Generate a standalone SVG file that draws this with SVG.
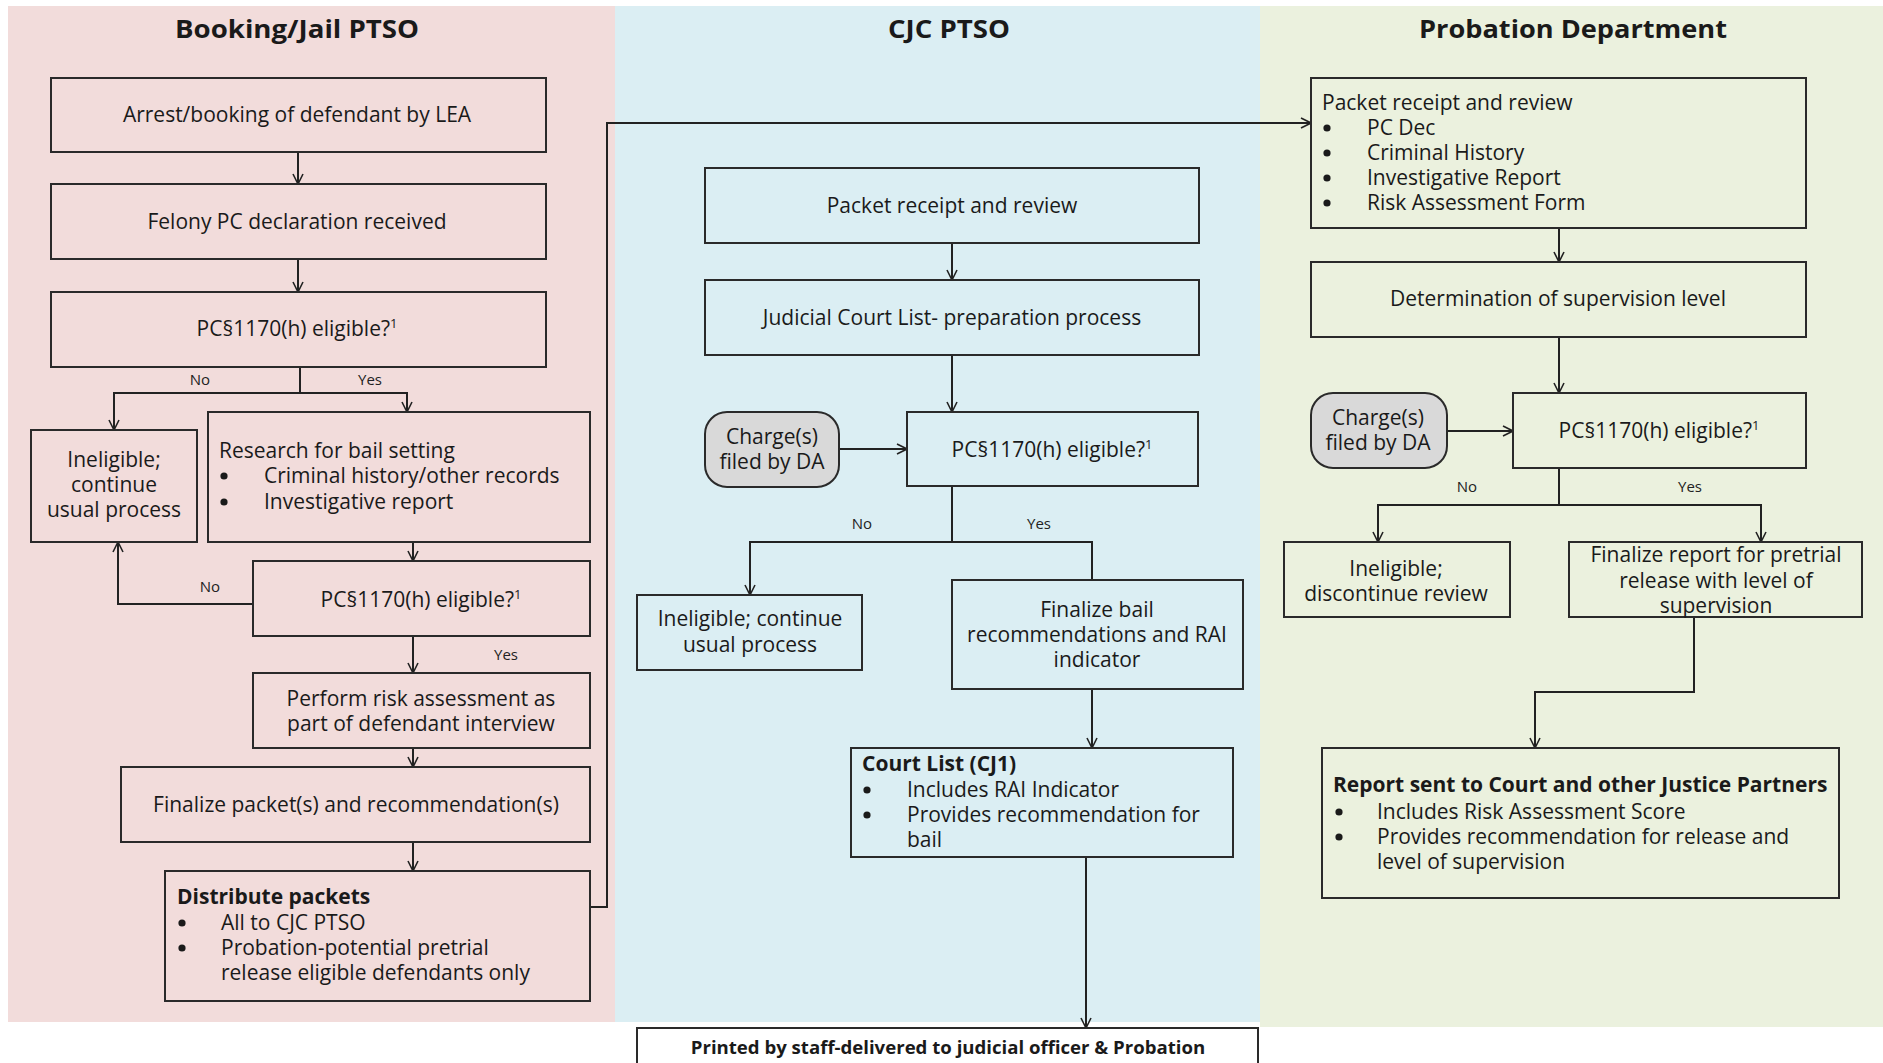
<svg xmlns="http://www.w3.org/2000/svg" width="1883" height="1063" viewBox="0 0 1883 1063">
<defs>
<marker id="arr" viewBox="0 0 12 12" refX="11" refY="6" markerWidth="12" markerHeight="12" markerUnits="userSpaceOnUse" orient="auto">
<path d="M1,1 L11,6 L1,11" fill="none" stroke="#222" stroke-width="1.6"/>
</marker>
<style>
.box{fill:none;stroke:#2a2a2a;stroke-width:2}
.pill{fill:#d9d9d9;stroke:#2a2a2a;stroke-width:2}
.t{font-family:"Open Sans","Liberation Sans",sans-serif;font-size:21px;fill:#1a1a1a}
.c{text-anchor:middle}
.b{font-weight:bold;font-size:21px}
.h{font-family:"Open Sans","Liberation Sans",sans-serif;font-size:25px;font-weight:bold;fill:#1a1a1a;text-anchor:middle}
.lbl{font-family:"Open Sans","Liberation Sans",sans-serif;font-size:15px;fill:#222;text-anchor:middle}
.sup{font-size:13px}
.ln{fill:none;stroke:#222;stroke-width:2}
.dot{fill:#1a1a1a}
</style>
</defs>
<g id="lanes">
<rect x="8" y="6" width="607" height="1016" fill="#F2DCDB"/>
<rect x="615" y="6" width="645" height="1016" fill="#DBEEF3"/>
<rect x="1260" y="6" width="623" height="1021" fill="#EBF1DE"/>
<text class="h" x="297" y="38" textLength="244" lengthAdjust="spacingAndGlyphs">Booking/Jail PTSO</text>
<text class="h" x="949" y="38" textLength="122" lengthAdjust="spacingAndGlyphs">CJC PTSO</text>
<text class="h" x="1573" y="38" textLength="308" lengthAdjust="spacingAndGlyphs">Probation Department</text>
</g>
<g id="connectors">
<line class="ln" x1="298" y1="152" x2="298" y2="184" marker-end="url(#arr)"/>
<line class="ln" x1="298" y1="259" x2="298" y2="292" marker-end="url(#arr)"/>
<polyline class="ln" points="300,367 300,393"/>
<polyline class="ln" points="114,430 114,393 407,393 407,412"/>
<line class="ln" x1="114" y1="393" x2="114" y2="430" marker-end="url(#arr)"/>
<line class="ln" x1="407" y1="393" x2="407" y2="412" marker-end="url(#arr)"/>
<line class="ln" x1="413" y1="542" x2="413" y2="561" marker-end="url(#arr)"/>
<polyline class="ln" points="253,604 118,604 118,542" marker-end="url(#arr)"/>
<line class="ln" x1="413" y1="636" x2="413" y2="673" marker-end="url(#arr)"/>
<line class="ln" x1="413" y1="748" x2="413" y2="767" marker-end="url(#arr)"/>
<line class="ln" x1="413" y1="842" x2="413" y2="871" marker-end="url(#arr)"/>
<polyline class="ln" points="590,907 607,907 607,123 1311,123" marker-end="url(#arr)"/>
<line class="ln" x1="952" y1="243" x2="952" y2="280" marker-end="url(#arr)"/>
<line class="ln" x1="952" y1="355" x2="952" y2="412" marker-end="url(#arr)"/>
<line class="ln" x1="839" y1="449" x2="907" y2="449" marker-end="url(#arr)"/>
<polyline class="ln" points="952,486 952,542"/>
<polyline class="ln" points="750,595 750,542 1092,542 1092,580"/>
<line class="ln" x1="750" y1="542" x2="750" y2="595" marker-end="url(#arr)"/>
<line class="ln" x1="1092" y1="689" x2="1092" y2="748" marker-end="url(#arr)"/>
<line class="ln" x1="1086" y1="857" x2="1086" y2="1028" marker-end="url(#arr)"/>
<line class="ln" x1="1559" y1="228" x2="1559" y2="262" marker-end="url(#arr)"/>
<line class="ln" x1="1559" y1="337" x2="1559" y2="393" marker-end="url(#arr)"/>
<line class="ln" x1="1447" y1="431" x2="1513" y2="431" marker-end="url(#arr)"/>
<polyline class="ln" points="1559,468 1559,505"/>
<polyline class="ln" points="1378,542 1378,505 1761,505 1761,542"/>
<line class="ln" x1="1378" y1="505" x2="1378" y2="542" marker-end="url(#arr)"/>
<line class="ln" x1="1761" y1="505" x2="1761" y2="542" marker-end="url(#arr)"/>
<polyline class="ln" points="1694,617 1694,692 1535,692 1535,748" marker-end="url(#arr)"/>
<text class="lbl" x="200" y="385">No</text>
<text class="lbl" x="370" y="385">Yes</text>
<text class="lbl" x="210" y="592">No</text>
<text class="lbl" x="506" y="660">Yes</text>
<text class="lbl" x="862" y="529">No</text>
<text class="lbl" x="1039" y="529">Yes</text>
<text class="lbl" x="1467" y="492">No</text>
<text class="lbl" x="1690" y="492">Yes</text>
</g>
<g id="n-arrest"><rect class="box" x="51" y="78" width="495" height="74"/><text class="t c" x="297" y="122">Arrest/booking of defendant by LEA</text></g>
<g id="n-felony"><rect class="box" x="51" y="184" width="495" height="75"/><text class="t c" x="297" y="229">Felony PC declaration received</text></g>
<g id="n-elig1"><rect class="box" x="51" y="292" width="495" height="75"/><text class="t c" x="297" y="336">PC§1170(h) eligible?<tspan class="sup" dy="-8">1</tspan></text></g>
<g id="n-inelig1"><rect class="box" x="31" y="430" width="166" height="112"/><text class="t c" x="114" y="467">Ineligible;</text><text class="t c" x="114" y="492">continue</text><text class="t c" x="114" y="517">usual process</text></g>
<g id="n-research"><rect class="box" x="208" y="412" width="382" height="130"/><text class="t" x="219" y="458">Research for bail setting</text><circle class="dot" cx="224" cy="476" r="3.6"/><text class="t" x="264" y="483">Criminal history/other records</text><circle class="dot" cx="224" cy="502" r="3.6"/><text class="t" x="264" y="509">Investigative report</text></g>
<g id="n-elig2"><rect class="box" x="253" y="561" width="337" height="75"/><text class="t c" x="421" y="607">PC§1170(h) eligible?<tspan class="sup" dy="-8">1</tspan></text></g>
<g id="n-risk"><rect class="box" x="253" y="673" width="337" height="75"/><text class="t c" x="421" y="706">Perform risk assessment as</text><text class="t c" x="421" y="731">part of defendant interview</text></g>
<g id="n-finalize-packets"><rect class="box" x="121" y="767" width="469" height="75"/><text class="t c" x="356" y="812">Finalize packet(s) and recommendation(s)</text></g>
<g id="n-distribute"><rect class="box" x="165" y="871" width="425" height="130"/><text class="t b" x="177" y="904">Distribute packets</text><circle class="dot" cx="182" cy="923" r="3.6"/><text class="t" x="221" y="930">All to CJC PTSO</text><circle class="dot" cx="182" cy="948" r="3.6"/><text class="t" x="221" y="955">Probation-potential pretrial</text><text class="t" x="221" y="980">release eligible defendants only</text></g>
<g id="n-cjc-packet"><rect class="box" x="705" y="168" width="494" height="75"/><text class="t c" x="952" y="213">Packet receipt and review</text></g>
<g id="n-court-prep"><rect class="box" x="705" y="280" width="494" height="75"/><text class="t c" x="952" y="325">Judicial Court List- preparation process</text></g>
<g id="n-charge1"><rect class="pill" x="705" y="412" width="134" height="75" rx="22"/><text class="t c" x="772" y="444">Charge(s)</text><text class="t c" x="772" y="469">filed by DA</text></g>
<g id="n-elig3"><rect class="box" x="907" y="412" width="291" height="74"/><text class="t c" x="1052" y="457">PC§1170(h) eligible?<tspan class="sup" dy="-8">1</tspan></text></g>
<g id="n-inelig2"><rect class="box" x="637" y="595" width="225" height="75"/><text class="t c" x="750" y="626">Ineligible; continue</text><text class="t c" x="750" y="652">usual process</text></g>
<g id="n-finalize-bail"><rect class="box" x="952" y="580" width="291" height="109"/><text class="t c" x="1097" y="617">Finalize bail</text><text class="t c" x="1097" y="642">recommendations and RAI</text><text class="t c" x="1097" y="667">indicator</text></g>
<g id="n-court-list"><rect class="box" x="851" y="748" width="382" height="109"/><text class="t b" x="862" y="771">Court List (CJ1)</text><circle class="dot" cx="867" cy="790" r="3.6"/><text class="t" x="907" y="797">Includes RAI Indicator</text><circle class="dot" cx="867" cy="815" r="3.6"/><text class="t" x="907" y="822">Provides recommendation for</text><text class="t" x="907" y="847">bail</text></g>
<g id="n-printed"><rect x="637" y="1028" width="621" height="50" fill="#fff" stroke="#2a2a2a" stroke-width="2"/><text class="t c" x="948" y="1054" style="font-size:18.6px;font-weight:bold">Printed by staff-delivered to judicial officer &amp; Probation</text></g>
<g id="n-prob-packet"><rect class="box" x="1311" y="78" width="495" height="150"/><text class="t" x="1322" y="110">Packet receipt and review</text><circle class="dot" cx="1327" cy="128" r="3.6"/><text class="t" x="1367" y="135">PC Dec</text><circle class="dot" cx="1327" cy="153" r="3.6"/><text class="t" x="1367" y="160">Criminal History</text><circle class="dot" cx="1327" cy="178" r="3.6"/><text class="t" x="1367" y="185">Investigative Report</text><circle class="dot" cx="1327" cy="203" r="3.6"/><text class="t" x="1367" y="210">Risk Assessment Form</text></g>
<g id="n-supervision"><rect class="box" x="1311" y="262" width="495" height="75"/><text class="t c" x="1558" y="306">Determination of supervision level</text></g>
<g id="n-charge2"><rect class="pill" x="1311" y="393" width="136" height="75" rx="22"/><text class="t c" x="1378" y="425">Charge(s)</text><text class="t c" x="1378" y="450">filed by DA</text></g>
<g id="n-elig4"><rect class="box" x="1513" y="393" width="293" height="75"/><text class="t c" x="1659" y="438">PC§1170(h) eligible?<tspan class="sup" dy="-8">1</tspan></text></g>
<g id="n-inelig3"><rect class="box" x="1284" y="542" width="226" height="75"/><text class="t c" x="1396" y="576">Ineligible;</text><text class="t c" x="1396" y="601">discontinue review</text></g>
<g id="n-finalize-report"><rect class="box" x="1569" y="542" width="293" height="75"/><text class="t c" x="1716" y="562">Finalize report for pretrial</text><text class="t c" x="1716" y="588">release with level of</text><text class="t c" x="1716" y="613">supervision</text></g>
<g id="n-report"><rect class="box" x="1322" y="748" width="517" height="150"/><text class="t b" x="1333" y="792">Report sent to Court and other Justice Partners</text><circle class="dot" cx="1339" cy="812" r="3.6"/><text class="t" x="1377" y="819">Includes Risk Assessment Score</text><circle class="dot" cx="1339" cy="837" r="3.6"/><text class="t" x="1377" y="844">Provides recommendation for release and</text><text class="t" x="1377" y="869">level of supervision</text></g>
</svg>
